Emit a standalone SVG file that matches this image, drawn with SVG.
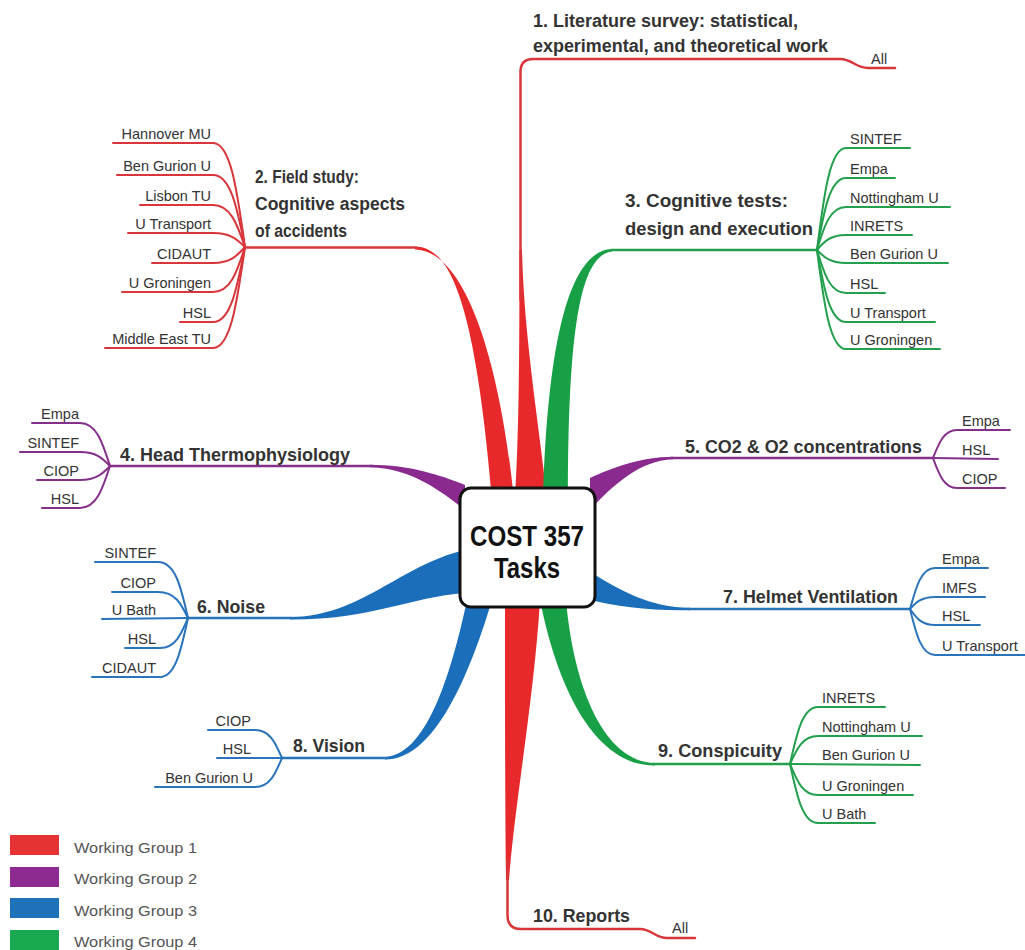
<svg xmlns="http://www.w3.org/2000/svg" width="1025" height="950" viewBox="0 0 1025 950">
<style>
text{font-family:"Liberation Sans",Arial,sans-serif;fill:#333}
.t{font-size:18px;font-weight:bold}
.c{font-size:14.5px}
.e{text-anchor:end}
.ln{fill:none;stroke-width:2.5;stroke-linecap:round}
.ch{fill:none;stroke-width:2;stroke-linecap:round}
.red{stroke:#d8363a}.redf{fill:#e8292b}
.grn{stroke:#23a04e}.grnf{fill:#18a046}
.blu{stroke:#2a74bb}.bluf{fill:#1b6fba}
.pur{stroke:#84308a}.purf{fill:#8a2a8e}
.lg{font-size:15px;fill:#555}
</style>
<g id="connectors">
  <path class="redf" d="M415,246.5 C450,247 475,300 492,500 L514,500 C500,360 465,250 415,249.5 Z"/>
  <path class="redf" d="M519.5,250 C519.5,380 518.5,440 515,500 L547,500 C540,430 524,340 522,250 Z"/>
  <path class="grnf" d="M612,249 C575,250 548,320 543,500 L568,500 C568,330 580,255 612,251.5 Z"/>
  <path class="redf" d="M505,600 L540,600 C534,700 515,800 509,880 L506,880 C505,800 505,700 505,600 Z"/>
  <path class="grnf" d="M538,600 L566,600 C574,690 605,762 655,763 L655,765.5 C600,766 560,700 540,600 Z"/>
  <path class="bluf" d="M467,600 C450,680 425,755 385,757 L385,759.5 C430,760 465,690 492,600 Z"/>
  <path class="bluf" d="M465,550 C400,565 360,617 290,617 L290,619.5 C370,620 410,597 465,593 Z"/>
  <path class="purf" d="M370,464.8 C410,465 440,475 465,485 L465,510 C440,490 410,468 370,467.2 Z"/>
  <path class="purf" d="M673,456.8 C640,457 612,468 590,478 L590,510 C612,486 640,460 673,459.2 Z"/>
  <path class="bluf" d="M590,572 C620,590 650,607.8 690,607.8 L690,610.2 C650,611 615,606 590,600 Z"/>
  <path class="ln red" d="M520.5,300 L520.5,72 Q520.5,59 533,59 L840,59 C852,59 856,68 868,68 L895,68"/>
  <path class="ln red" d="M245,247.5 L416,247.5"/>
  <path class="ln grn" d="M611,250 L817,250"/>
  <path class="ln pur" d="M110,466 L372,466"/>
  <path class="ln pur" d="M671,458 L933,458"/>
  <path class="ln blu" d="M188,618 L292,618"/>
  <path class="ln blu" d="M688,609 L910,609"/>
  <path class="ln blu" d="M282,758 L387,758"/>
  <path class="ln grn" d="M653,764 L790,764"/>
  <path class="ln red" d="M507.5,860 L507.5,915 Q507.5,929 521,929 L640,929 C652,929 655,938 667,938 L695,938"/>
  <path class="ch red" d="M113,143 L213,143 C230.6,143 237,189.8 245,247"/>
  <path class="ch red" d="M117,175 L213,175 C230.6,175 237,207.4 245,247"/>
  <path class="ch red" d="M140,205 L213,205 C230.6,205 237,223.9 245,247"/>
  <path class="ch red" d="M128,233 L213,233 C230.6,233 237,239.3 245,247"/>
  <path class="ch red" d="M152,263 L213,263 C230.6,263 237,255.8 245,247"/>
  <path class="ch red" d="M122,292 L213,292 C230.6,292 237,271.75 245,247"/>
  <path class="ch red" d="M180,322 L213,322 C230.6,322 237,288.25 245,247"/>
  <path class="ch red" d="M105,348 L213,348 C230.6,348 237,302.55 245,247"/>
  <path class="ch grn" d="M817,250 C824,193.9 830,148 846,148 L910,148"/>
  <path class="ch grn" d="M817,250 C824,210.4 830,178 846,178 L895,178"/>
  <path class="ch grn" d="M817,250 C824,226.35 830,207 846,207 L950,207"/>
  <path class="ch grn" d="M817,250 C824,241.75 830,235 846,235 L912,235"/>
  <path class="ch grn" d="M817,250 C824,257.15 830,263 846,263 L948,263"/>
  <path class="ch grn" d="M817,250 C824,273.65 830,293 846,293 L885,293"/>
  <path class="ch grn" d="M817,250 C824,289.6 830,322 846,322 L935,322"/>
  <path class="ch grn" d="M817,250 C824,304.45 830,349 846,349 L940,349"/>
  <path class="ch pur" d="M32,423 L80,423 C96.5,423 102.5,442.35 110,466"/>
  <path class="ch pur" d="M20,452 L80,452 C96.5,452 102.5,458.3 110,466"/>
  <path class="ch pur" d="M37,480 L80,480 C96.5,480 102.5,473.7 110,466"/>
  <path class="ch pur" d="M42,508 L80,508 C96.5,508 102.5,489.1 110,466"/>
  <path class="ch pur" d="M933,458 C939,442.6 944,430 957,430 L1010,430"/>
  <path class="ch pur" d="M933,458 L998,459"/>
  <path class="ch pur" d="M933,458 C939,474.5 944,488 957,488 L1005,488"/>
  <path class="ch blu" d="M95,562 L158,562 C175.4,562 181,587.2 188,618"/>
  <path class="ch blu" d="M112,592 L158,592 C175.4,592 181,603.7 188,618"/>
  <path class="ch blu" d="M102,619 L188,618"/>
  <path class="ch blu" d="M125,648 L160,648 C175.4,648 181,634.5 188,618"/>
  <path class="ch blu" d="M92,677 L160,677 C175.4,677 181,650.45 188,618"/>
  <path class="ch blu" d="M910,609 C916.25,586.45 921.25,568 935,568 L988,568"/>
  <path class="ch blu" d="M910,609 C916.25,602.4 921.25,597 935,597 L985,597"/>
  <path class="ch blu" d="M910,609 C916.25,617.8 921.25,625 935,625 L980,625"/>
  <path class="ch blu" d="M910,609 C916.25,634.3 921.25,655 935,655 L1025,655"/>
  <path class="ch blu" d="M208,730 L255,730 C269.85,730 275.25,742.6 282,758"/>
  <path class="ch blu" d="M217,758 L282,758"/>
  <path class="ch blu" d="M155,787 L255,787 C269.85,787 275.25,773.95 282,758"/>
  <path class="ch grn" d="M790,764 C797,732.65 802.6,707 818,707 L885,707"/>
  <path class="ch grn" d="M790,764 C797,748.6 802.6,736 818,736 L922,736"/>
  <path class="ch grn" d="M790,764 L920,765"/>
  <path class="ch grn" d="M790,764 C797,781.05 802.6,795 818,795 L913,795"/>
  <path class="ch grn" d="M790,764 C797,796.45 802.6,823 818,823 L875,823"/>
</g>
<g id="center">
  <rect x="460" y="488" width="135" height="119" rx="11" fill="#fff" stroke="#111" stroke-width="3"/>
  <text x="527" y="546" text-anchor="middle" font-size="29" font-weight="bold" style="fill:#111" textLength="114" lengthAdjust="spacingAndGlyphs">COST 357</text>
  <text x="527" y="578" text-anchor="middle" font-size="29" font-weight="bold" style="fill:#111" textLength="66" lengthAdjust="spacingAndGlyphs">Tasks</text>
</g>
<g id="task1">
  <text class="t" x="533" y="27" textLength="265" lengthAdjust="spacingAndGlyphs">1. Literature survey: statistical,</text>
  <text class="t" x="533" y="52" textLength="295" lengthAdjust="spacingAndGlyphs">experimental, and theoretical work</text>
  <text class="c" x="871" y="64" font-size="13">All</text>
</g>
<g id="task2">
  <text class="t" x="255" y="183" textLength="104" lengthAdjust="spacingAndGlyphs">2. Field study:</text>
  <text class="t" x="255" y="210" textLength="150" lengthAdjust="spacingAndGlyphs">Cognitive aspects</text>
  <text class="t" x="255" y="237" textLength="92" lengthAdjust="spacingAndGlyphs">of accidents</text>
  <text class="c e" x="211" y="139">Hannover MU</text>
  <text class="c e" x="211" y="171">Ben Gurion U</text>
  <text class="c e" x="211" y="201">Lisbon TU</text>
  <text class="c e" x="211" y="229">U Transport</text>
  <text class="c e" x="211" y="259">CIDAUT</text>
  <text class="c e" x="211" y="288">U Groningen</text>
  <text class="c e" x="211" y="318">HSL</text>
  <text class="c e" x="211" y="344">Middle East TU</text>
</g>
<g id="task3">
  <text class="t" x="625" y="207" textLength="163" lengthAdjust="spacingAndGlyphs">3. Cognitive tests:</text>
  <text class="t" x="625" y="235" textLength="188" lengthAdjust="spacingAndGlyphs">design and execution</text>
  <text class="c" x="850" y="144">SINTEF</text>
  <text class="c" x="850" y="174">Empa</text>
  <text class="c" x="850" y="203">Nottingham U</text>
  <text class="c" x="850" y="231">INRETS</text>
  <text class="c" x="850" y="259">Ben Gurion U</text>
  <text class="c" x="850" y="289">HSL</text>
  <text class="c" x="850" y="318">U Transport</text>
  <text class="c" x="850" y="345">U Groningen</text>
</g>
<g id="task4">
  <text class="t" x="120" y="461" textLength="230" lengthAdjust="spacingAndGlyphs">4. Head Thermophysiology</text>
  <text class="c e" x="79" y="419">Empa</text>
  <text class="c e" x="79" y="448">SINTEF</text>
  <text class="c e" x="79" y="476">CIOP</text>
  <text class="c e" x="79" y="504">HSL</text>
</g>
<g id="task5">
  <text class="t" x="685" y="453" textLength="237" lengthAdjust="spacingAndGlyphs">5. CO2 &amp; O2 concentrations</text>
  <text class="c" x="962" y="426">Empa</text>
  <text class="c" x="962" y="455">HSL</text>
  <text class="c" x="962" y="484">CIOP</text>
</g>
<g id="task6">
  <text class="t" x="197" y="613" textLength="68" lengthAdjust="spacingAndGlyphs">6. Noise</text>
  <text class="c e" x="156" y="558">SINTEF</text>
  <text class="c e" x="156" y="588">CIOP</text>
  <text class="c e" x="156" y="615">U Bath</text>
  <text class="c e" x="156" y="644">HSL</text>
  <text class="c e" x="156" y="673">CIDAUT</text>
</g>
<g id="task7">
  <text class="t" x="723" y="603" textLength="175" lengthAdjust="spacingAndGlyphs">7. Helmet Ventilation</text>
  <text class="c" x="942" y="564">Empa</text>
  <text class="c" x="942" y="593">IMFS</text>
  <text class="c" x="942" y="621">HSL</text>
  <text class="c" x="942" y="651">U Transport</text>
</g>
<g id="task8">
  <text class="t" x="293" y="752" textLength="72" lengthAdjust="spacingAndGlyphs">8. Vision</text>
  <text class="c e" x="251" y="726">CIOP</text>
  <text class="c e" x="251" y="754">HSL</text>
  <text class="c e" x="253" y="783">Ben Gurion U</text>
</g>
<g id="task9">
  <text class="t" x="658" y="757" textLength="124" lengthAdjust="spacingAndGlyphs">9. Conspicuity</text>
  <text class="c" x="822" y="703">INRETS</text>
  <text class="c" x="822" y="732">Nottingham U</text>
  <text class="c" x="822" y="760">Ben Gurion U</text>
  <text class="c" x="822" y="791">U Groningen</text>
  <text class="c" x="822" y="819">U Bath</text>
</g>
<g id="task10">
  <text class="t" x="533" y="922" textLength="97" lengthAdjust="spacingAndGlyphs">10. Reports</text>
  <text class="c" x="672" y="933" font-size="13">All</text>
</g>
<g id="legend">
  <rect x="10" y="835" width="49" height="20" fill="#e53232"/>
  <rect x="10" y="867" width="49" height="20" fill="#8e2b92"/>
  <rect x="10" y="898" width="49" height="20" fill="#1f72b8"/>
  <rect x="10" y="930" width="49" height="20" fill="#1aa850"/>
  <text class="lg" x="74" y="853" textLength="123" lengthAdjust="spacingAndGlyphs">Working Group 1</text>
  <text class="lg" x="74" y="884" textLength="123" lengthAdjust="spacingAndGlyphs">Working Group 2</text>
  <text class="lg" x="74" y="916" textLength="123" lengthAdjust="spacingAndGlyphs">Working Group 3</text>
  <text class="lg" x="74" y="947" textLength="123" lengthAdjust="spacingAndGlyphs">Working Group 4</text>
</g>
</svg>
